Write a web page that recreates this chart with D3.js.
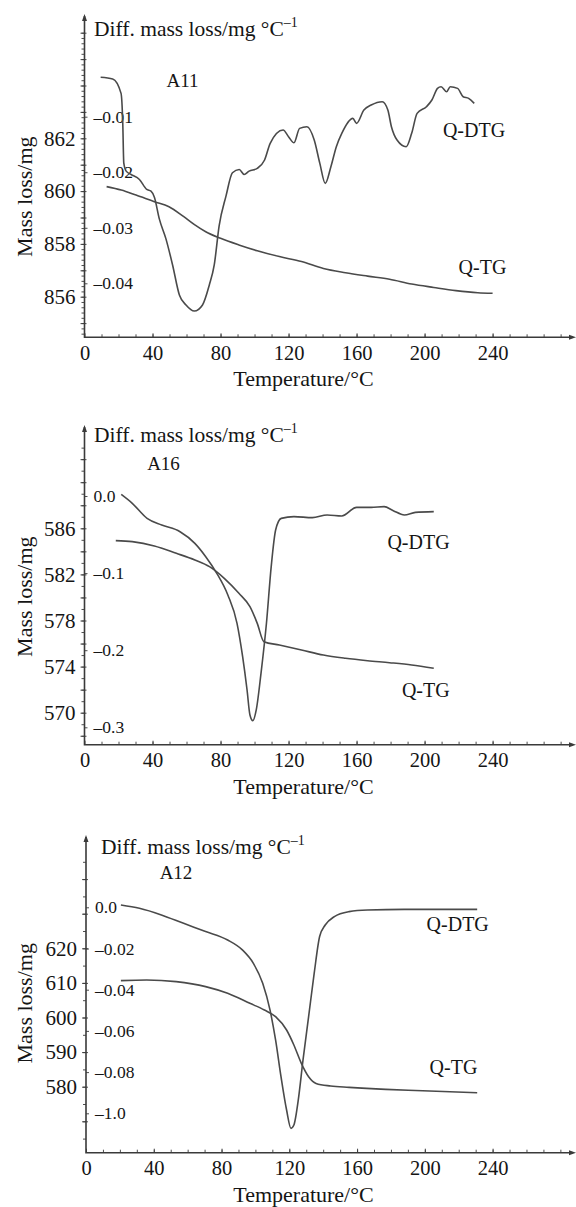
<!DOCTYPE html>
<html>
<head>
<meta charset="utf-8">
<script src="https://cdn.jsdelivr.net/npm/d3@7"></script>
<style>
body{margin:0;background:#fff}
svg text{font-family:"Liberation Serif","Times New Roman",serif;fill:#151515}
</style>
</head>
<body>
<svg id="chart" width="576" height="1207"></svg>
<script>
// ---- data ----
const temperatureTicks = [0, 40, 80, 120, 160, 200, 240]

// A11
const a11DtgTemp = [9.5, 16.6, 21.5, 22.5, 23.1, 24.5, 27.4, 32.3, 36.6, 39.1, 41.1, 44, 47.9, 51.8, 55.8, 59.7, 64.6, 69.4, 73.4, 76.3, 79.2, 83.2, 87, 91, 93.9, 96.8, 101.6, 105.9, 109.2, 116.8, 120, 123.2, 126.5, 130.8, 135.1, 138.4, 141.6, 144.9, 148.1, 151.3, 157.8, 160, 164.3, 168.6, 175.1, 178.4, 180.5, 183.8, 189.2, 192.4, 195.6, 201.1, 204.3, 207.6, 209.7, 213, 215.1, 219.4, 222.7, 225.9, 229.2]
const a11DtgValue = [-0.0029, -0.0032, -0.0058, -0.0111, -0.0183, -0.0198, -0.0204, -0.0213, -0.0231, -0.0234, -0.0245, -0.0284, -0.032, -0.0367, -0.0421, -0.0439, -0.045, -0.0439, -0.0403, -0.0367, -0.0296, -0.0243, -0.0201, -0.0195, -0.0204, -0.0198, -0.0193, -0.0178, -0.0148, -0.0124, -0.0136, -0.0147, -0.0121, -0.0118, -0.0142, -0.0184, -0.022, -0.019, -0.0154, -0.013, -0.0103, -0.0112, -0.0088, -0.0079, -0.0073, -0.0088, -0.0118, -0.0142, -0.0154, -0.013, -0.0094, -0.0082, -0.007, -0.0049, -0.0046, -0.0055, -0.0046, -0.0049, -0.0064, -0.0067, -0.0076]
const a11TgTemp = [13, 21.6, 30.3, 41.1, 49.7, 58.4, 64.9, 71.3, 80, 90.8, 101.6, 114.6, 127.6, 140.5, 153.5, 166.5, 179.4, 192.4, 205.4, 218.4, 231.3, 240]
const a11TgMass = [860.17, 860.04, 859.85, 859.6, 859.41, 859.03, 858.72, 858.46, 858.21, 857.96, 857.74, 857.52, 857.33, 857.07, 856.91, 856.78, 856.66, 856.48, 856.35, 856.23, 856.15, 856.13]
const a11MassTicks = [856, 858, 860, 862]
const a11DtgTicks = [-0.01, -0.02, -0.03, -0.04]
const a11DtgLabels = ['–0.01', '–0.02', '–0.03', '–0.04']

// A16
const a16DtgTemp = [21.6, 28.1, 36.8, 45.4, 56.2, 64.9, 71.3, 77.8, 84.3, 89.7, 93, 95.6, 97.3, 99, 101, 103.8, 107, 109.8, 112.4, 115.7, 123.2, 134, 142.7, 151.3, 160, 168.6, 176.2, 181.6, 188.1, 194.6, 205.4]
const a16DtgValue = [0.002, -0.0095, -0.029, -0.0376, -0.0463, -0.0614, -0.0787, -0.1003, -0.1284, -0.1651, -0.2084, -0.2516, -0.284, -0.2914, -0.2775, -0.23, -0.1651, -0.0916, -0.0441, -0.029, -0.0268, -0.0281, -0.0246, -0.0259, -0.0147, -0.0147, -0.0138, -0.019, -0.0246, -0.0212, -0.0203]
const a16TgTemp = [18.4, 28.1, 41.1, 54, 64.9, 73.5, 82.2, 90.8, 97.3, 101.6, 105.5, 114.6, 127.6, 140.5, 153.5, 166.5, 179.4, 192.4, 205.4]
const a16TgMass = [584.93, 584.84, 584.47, 583.83, 583.25, 582.67, 581.66, 580.36, 579.2, 577.75, 576.16, 575.87, 575.44, 575.0, 574.72, 574.51, 574.34, 574.14, 573.85]
const a16MassTicks = [570, 574, 578, 582, 586]
const a16DtgTicks = [0, -0.1, -0.2, -0.3]
const a16DtgLabels = ['0.0', '–0.1', '–0.2', '–0.3']

// A12
const a12DtgTemp = [20.6, 31.5, 44.5, 57.6, 70.6, 83.6, 92.3, 98.8, 104.3, 108.6, 111.9, 115.1, 118.4, 121, 122.7, 125.3, 128.1, 131.4, 134.7, 137.9, 141.2, 146.6, 155.3, 166.2, 187.9, 209.6, 230.9]
const a12DtgValue = [0.0011, -0.0005, -0.0037, -0.0078, -0.0118, -0.0159, -0.0207, -0.0272, -0.0369, -0.0498, -0.0644, -0.0822, -0.0984, -0.1073, -0.1057, -0.0935, -0.0741, -0.0531, -0.032, -0.0142, -0.0086, -0.0045, -0.0021, -0.0013, -0.001, -0.001, -0.001]
const a12TgTemp = [20.6, 35.8, 53.2, 70.6, 83.6, 96.7, 105.3, 111.9, 118.4, 122.7, 127.1, 131.4, 135.8, 144.4, 155.3, 177, 198.7, 230.9]
const a12TgMass = [610.65, 610.84, 610.36, 608.92, 606.99, 604.1, 602.17, 600.24, 596.38, 592.05, 586.75, 582.89, 580.96, 580.19, 579.81, 579.23, 578.84, 578.26]
const a12MassTicks = [580, 590, 600, 610, 620]
const a12DtgTicks = [0, -0.02, -0.04, -0.06, -0.08, -0.1]
const a12DtgLabels = ['0.0', '–0.02', '–0.04', '–0.06', '–0.08', '–1.0']

// ---- layout (pixels) ----
const panels = [
  {name: 'A11', dtgT: a11DtgTemp, dtgV: a11DtgValue, tgT: a11TgTemp, tgM: a11TgMass,
   massTicks: a11MassTicks, minorStep: 0.2, majorStep: 1, dtgTicks: a11DtgTicks, dtgLabels: a11DtgLabels,
   x0: 84.5, top: 14, base: 337.3, massPx: [296.7, 138.3], dtgPx: [116.7, 283.3],
   diff: [94, 28.5], label: [182.5, 80], qdtg: [474, 130], qtg: [482.5, 266.7], title: 196.7},
  {name: 'A16', dtgT: a16DtgTemp, dtgV: a16DtgValue, tgT: a16TgTemp, tgM: a16TgMass,
   massTicks: a16MassTicks, minorStep: 1, majorStep: 2, dtgTicks: a16DtgTicks, dtgLabels: a16DtgLabels,
   x0: 84.5, top: 425, base: 744.7, massPx: [712.7, 528.3], dtgPx: [496, 727.3],
   diff: [94, 435], label: [163.5, 463.3], qdtg: [418.5, 541.7], qtg: [425.8, 690], title: 596.7},
  {name: 'A12', dtgT: a12DtgTemp, dtgV: a12DtgValue, tgT: a12TgTemp, tgM: a12TgMass,
   massTicks: a12MassTicks, minorStep: 5, majorStep: 10, dtgTicks: a12DtgTicks, dtgLabels: a12DtgLabels,
   x0: 86, top: 835, base: 1152.7, massPx: [1086.7, 948.3], dtgPx: [907.3, 1113.3],
   diff: [101, 846.7], label: [176, 872.7], qdtg: [457.7, 924], qtg: [453.5, 1066.7], title: 1003.3}
]

const axisColor = '#3a3a3a'
const lineColor = '#4a4a4a'
const svg = d3.select('#chart')

panels.forEach(p => {
  const x = d3.scaleLinear().domain([0, 240]).range([p.x0, 492.6])
  const yMass = d3.scaleLinear()
    .domain([p.massTicks[0], p.massTicks[p.massTicks.length - 1]]).range(p.massPx)
  const yDtg = d3.scaleLinear()
    .domain([p.dtgTicks[0], p.dtgTicks[p.dtgTicks.length - 1]]).range(p.dtgPx)

  const g = svg.append('g')

  // minor y ticks (mass)
  const lo = yMass.invert(p.base), hi = yMass.invert(p.top + 14)
  const minor = d3.range(Math.ceil(lo / p.minorStep) * p.minorStep, hi, p.minorStep)
  g.append('g').attr('transform', `translate(${p.x0},0)`)
    .call(d3.axisLeft(yMass).tickValues(minor).tickSize(3).tickFormat(''))
    .call(a => a.select('.domain').remove())
  const major = d3.range(Math.ceil(lo / p.majorStep) * p.majorStep, hi, p.majorStep)
  g.append('g').attr('transform', `translate(${p.x0 + 2},0)`)
    .call(d3.axisLeft(yMass).tickValues(major).tickSize(6).tickFormat(''))
    .call(a => a.select('.domain').remove())

  // mass labels
  g.append('g').attr('transform', `translate(${p.x0},0)`)
    .call(d3.axisLeft(yMass).tickValues(p.massTicks).tickSize(0).tickPadding(9).tickFormat(d3.format('d')))
    .call(a => a.select('.domain').remove())
    .selectAll('text').style('font-size', '21px').attr('fill', '#151515')

  // DTG labels inside the frame
  g.append('g').attr('transform', `translate(${p.x0},0)`)
    .call(d3.axisRight(yDtg).tickValues(p.dtgTicks).tickSize(3).tickPadding(6)
      .tickFormat((d, i) => p.dtgLabels[i]))
    .call(a => a.select('.domain').remove())
    .selectAll('text').style('font-size', '17.5px').attr('fill', '#151515')

  // x axis
  const xg = g.append('g').attr('transform', `translate(0,${p.base})`)
  xg.append('g')
    .call(d3.axisBottom(x).tickValues(d3.range(10, 290, 10)).tickSize(-3).tickFormat(''))
    .call(a => a.select('.domain').remove())
  xg.append('g')
    .call(d3.axisBottom(x).tickValues(temperatureTicks).tickSize(-4).tickPadding(8))
    .call(a => a.select('.domain').remove())
    .selectAll('text').style('font-size', '20.5px').attr('fill', '#151515')
  g.selectAll('.tick line').attr('stroke', axisColor).attr('stroke-width', 0.9)

  // axis lines with arrows
  g.append('path')
    .attr('d', `M${p.x0},${p.top + 2}V${p.base}H573`)
    .attr('fill', 'none').attr('stroke', axisColor).attr('stroke-width', 1.6)
  g.append('path')
    .attr('d', `M${p.x0 - 2.5},${p.top + 7}L${p.x0},${p.top}L${p.x0 + 2.5},${p.top + 7}Z`)
    .attr('fill', axisColor)
  g.append('path')
    .attr('d', `M569,${p.base - 2.5}L576,${p.base}L569,${p.base + 2.5}Z`)
    .attr('fill', axisColor)

  // curves
  const line = d3.line().curve(d3.curveMonotoneX)
  g.append('path')
    .attr('d', line(p.tgT.map((t, i) => [x(t), yMass(p.tgM[i])])))
    .attr('fill', 'none').attr('stroke', lineColor).attr('stroke-width', 1.6)
  g.append('path')
    .attr('d', line(p.dtgT.map((t, i) => [x(t), yDtg(p.dtgV[i])])))
    .attr('fill', 'none').attr('stroke', lineColor).attr('stroke-width', 1.6)

  // texts
  const diff = g.append('text').attr('x', p.diff[0]).attr('y', p.diff[1])
    .attr('dominant-baseline', 'central').style('font-size', '21.5px')
  diff.append('tspan').text('Diff. mass loss/mg °C')
  diff.append('tspan').text('–1').attr('dy', -7).style('font-size', '14px')

  g.append('text').attr('x', p.label[0]).attr('y', p.label[1])
    .attr('text-anchor', 'middle').attr('dominant-baseline', 'central')
    .style('font-size', '19px').text(p.name)
  g.append('text').attr('x', p.qdtg[0]).attr('y', p.qdtg[1])
    .attr('text-anchor', 'middle').attr('dominant-baseline', 'central')
    .style('font-size', '20px').text('Q-DTG')
  g.append('text').attr('x', p.qtg[0]).attr('y', p.qtg[1])
    .attr('text-anchor', 'middle').attr('dominant-baseline', 'central')
    .style('font-size', '20px').text('Q-TG')

  g.append('text').attr('x', 303.5).attr('y', p.base + 41.5)
    .attr('text-anchor', 'middle').attr('dominant-baseline', 'central')
    .style('font-size', '22px').text('Temperature/°C')
  g.append('text')
    .attr('transform', `translate(24,${p.title}) rotate(-90)`)
    .attr('text-anchor', 'middle').attr('dominant-baseline', 'central')
    .style('font-size', '22px').text('Mass loss/mg')
})
</script>
</body>
</html>
